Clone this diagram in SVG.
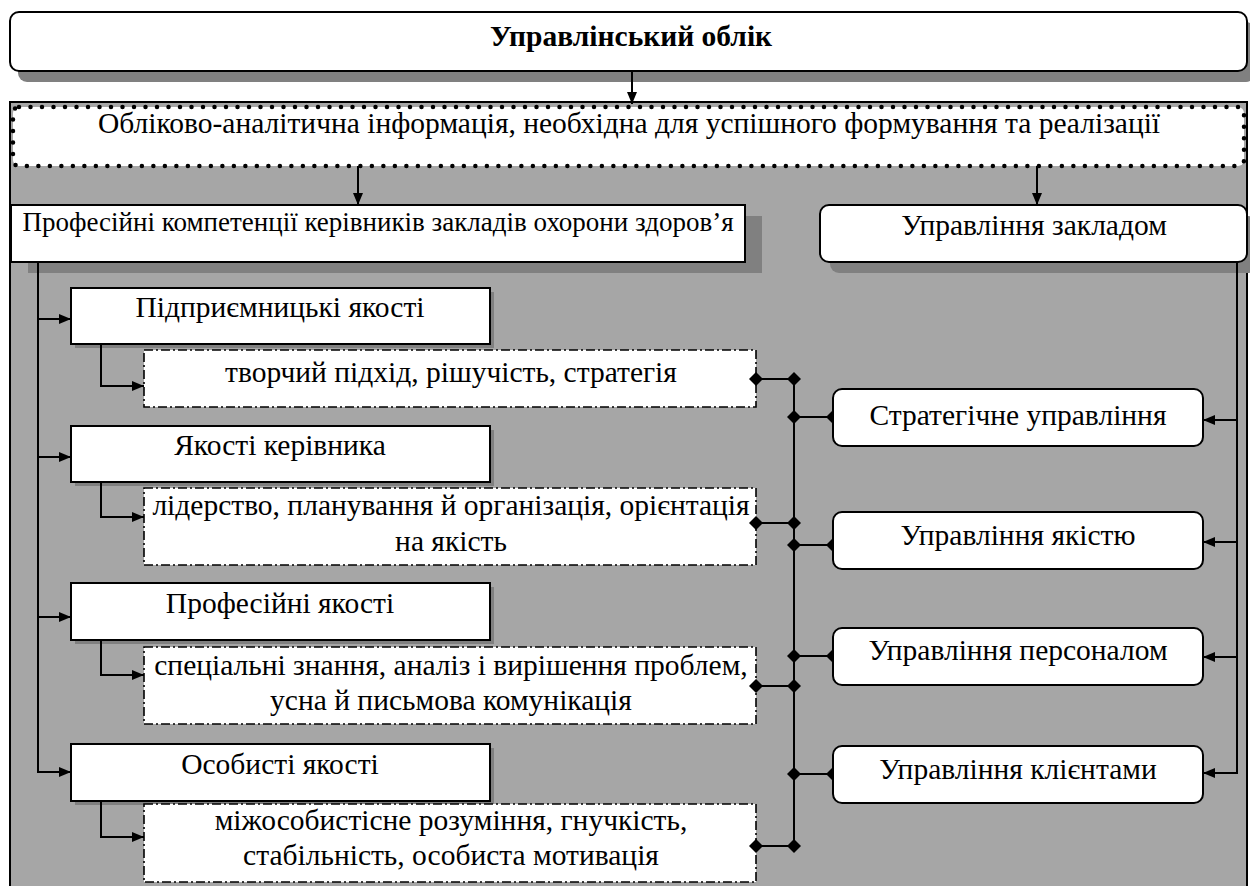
<svg xmlns="http://www.w3.org/2000/svg" width="1250" height="886" viewBox="0 0 1250 886">
  <style>
    .t { font-family: "Liberation Serif", "Times New Roman", serif; font-size: 29.5px; fill: #000; text-anchor: middle; }
    .title { font-weight: bold; }
    .box { fill: #fff; stroke: #000; stroke-width: 2; }
    .shadow { fill: #808080; stroke: none; }
    .dashdot { fill: #fff; stroke: #000; stroke-width: 1.6; stroke-dasharray: 9 3 2 3; }
    .dotted { fill: #fff; stroke: #000; stroke-width: 4.5; stroke-linecap: round; stroke-dasharray: 0 11.5; }
    .line { fill: none; stroke: #000; stroke-width: 2; }
  </style>
  <defs>
    <marker id="arrow" viewBox="0 0 12 10" refX="12" refY="5" markerWidth="12" markerHeight="10" markerUnits="userSpaceOnUse" orient="auto">
      <path d="M0,0 L12,5 L0,10 Z" fill="#000"/>
    </marker>
    <marker id="diamond" viewBox="0 0 14 14" refX="7" refY="7" markerWidth="14" markerHeight="14" markerUnits="userSpaceOnUse" orient="auto">
      <path d="M0,7 L7,0 L14,7 L7,14 Z" fill="#000"/>
    </marker>
    <marker id="halfdiamond" viewBox="0 0 7 14" refX="7" refY="7" markerWidth="7" markerHeight="14" markerUnits="userSpaceOnUse" orient="auto">
      <path d="M0,7 L7,0 L7,14 Z" fill="#000"/>
    </marker>
  </defs>

  <rect width="1250" height="886" fill="#fff"/>

  <!-- top heading -->
  <g id="node-accounting">
    <rect class="shadow" x="18" y="22" width="1237" height="60" rx="9"/>
    <rect class="box" x="10" y="12" width="1237" height="59" rx="9"/>
    <text class="t title" x="631" y="46">Управлінський облік</text>
  </g>

  <!-- grey frame -->
  <g id="frame">
    <rect x="10" y="102" width="1237" height="800" fill="#a6a6a6" stroke="#000" stroke-width="2"/>
  </g>

  <g id="node-info">
    <rect class="dotted" x="13" y="107" width="1231" height="59" rx="6"/>
    <text class="t" x="629" y="133">Обліково-аналітична інформація, необхідна для успішного формування та реалізації</text>
  </g>

  <g id="node-competences">
    <rect class="shadow" x="28" y="216" width="734" height="57"/>
    <rect class="box" x="11" y="205" width="734" height="57"/>
    <text class="t" x="378" y="231" style="font-size:27px">Професійні компетенції керівників закладів охорони здоров’я</text>
  </g>

  <g id="node-institution">
    <rect class="shadow" x="830" y="216" width="427" height="57" rx="9"/>
    <rect class="box" x="820" y="205" width="427" height="57" rx="9"/>
    <text class="t" x="1034" y="235">Управління закладом</text>
  </g>

  <!-- quality categories -->
  <g id="node-entrepreneurial">
    <rect class="shadow" x="75" y="292" width="419" height="56"/>
    <rect class="box" x="71" y="288" width="419" height="56"/>
    <text class="t" x="280" y="317">Підприємницькі якості</text>
  </g>
  <g id="node-entrepreneurial-details">
    <rect class="dashdot" x="144" y="350" width="612" height="57"/>
    <text class="t" x="451" y="382">творчий підхід, рішучість, стратегія</text>
  </g>

  <g id="node-leader">
    <rect class="shadow" x="75" y="430" width="419" height="56"/>
    <rect class="box" x="71" y="426" width="419" height="56"/>
    <text class="t" x="280" y="455">Якості керівника</text>
  </g>
  <g id="node-leader-details">
    <rect class="dashdot" x="144" y="488" width="612" height="77"/>
    <text class="t" x="451" y="515">лідерство, планування й організація, орієнтація</text>
    <text class="t" x="451" y="551">на якість</text>
  </g>

  <g id="node-professional">
    <rect class="shadow" x="75" y="587" width="419" height="57"/>
    <rect class="box" x="71" y="583" width="419" height="57"/>
    <text class="t" x="280" y="613">Професійні якості</text>
  </g>
  <g id="node-professional-details">
    <rect class="dashdot" x="144" y="647" width="612" height="77"/>
    <text class="t" x="451" y="675">спеціальні знання, аналіз і вирішення проблем,</text>
    <text class="t" x="451" y="710">усна й письмова комунікація</text>
  </g>

  <g id="node-personal">
    <rect class="shadow" x="75" y="748" width="419" height="57"/>
    <rect class="box" x="71" y="744" width="419" height="57"/>
    <text class="t" x="280" y="774">Особисті якості</text>
  </g>
  <g id="node-personal-details">
    <rect class="dashdot" x="144" y="804" width="612" height="78"/>
    <text class="t" x="451" y="830">міжособистісне розуміння, гнучкість,</text>
    <text class="t" x="451" y="865">стабільність, особиста мотивація</text>
  </g>

  <!-- connectors -->
  <g id="connectors">
    <line class="line" x1="632" y1="71" x2="632" y2="104" marker-end="url(#arrow)"/>
    <line class="line" x1="358" y1="166" x2="358" y2="205" marker-end="url(#arrow)"/>
    <line class="line" x1="1037" y1="166" x2="1037" y2="205" marker-end="url(#arrow)"/>

    <!-- left trunk to categories -->
    <line class="line" x1="38" y1="262" x2="38" y2="773"/>
    <line class="line" x1="38" y1="319" x2="71" y2="319" marker-end="url(#arrow)"/>
    <line class="line" x1="38" y1="457" x2="71" y2="457" marker-end="url(#arrow)"/>
    <line class="line" x1="38" y1="617" x2="71" y2="617" marker-end="url(#arrow)"/>
    <line class="line" x1="38" y1="772" x2="71" y2="772" marker-end="url(#arrow)"/>

    <!-- categories to details -->
    <polyline class="line" points="101,344 101,386 144,386" marker-end="url(#arrow)"/>
    <polyline class="line" points="101,482 101,517 144,517" marker-end="url(#arrow)"/>
    <polyline class="line" points="101,640 101,675 144,675" marker-end="url(#arrow)"/>
    <polyline class="line" points="101,801 101,837 144,837" marker-end="url(#arrow)"/>

    <!-- details to the management bus -->
    <line class="line" x1="794" y1="379" x2="794" y2="846"/>
    <line class="line" x1="756" y1="379" x2="794" y2="379" marker-start="url(#diamond)" marker-end="url(#diamond)"/>
    <line class="line" x1="756" y1="523" x2="794" y2="523" marker-start="url(#diamond)" marker-end="url(#diamond)"/>
    <line class="line" x1="756" y1="686" x2="794" y2="686" marker-start="url(#diamond)" marker-end="url(#diamond)"/>
    <line class="line" x1="756" y1="846" x2="794" y2="846" marker-start="url(#diamond)" marker-end="url(#diamond)"/>

    <!-- bus to management areas -->
    <line class="line" x1="794" y1="417" x2="833" y2="417" marker-start="url(#diamond)" marker-end="url(#halfdiamond)"/>
    <line class="line" x1="794" y1="545" x2="833" y2="545" marker-start="url(#diamond)" marker-end="url(#halfdiamond)"/>
    <line class="line" x1="794" y1="656" x2="833" y2="656" marker-start="url(#diamond)" marker-end="url(#halfdiamond)"/>
    <line class="line" x1="794" y1="774" x2="833" y2="774" marker-start="url(#diamond)" marker-end="url(#halfdiamond)"/>

    <!-- right trunk from institution management -->
    <line class="line" x1="1237" y1="262" x2="1237" y2="774"/>
    <line class="line" x1="1237" y1="420" x2="1203" y2="420" marker-end="url(#arrow)"/>
    <line class="line" x1="1237" y1="542" x2="1203" y2="542" marker-end="url(#arrow)"/>
    <line class="line" x1="1237" y1="657" x2="1203" y2="657" marker-end="url(#arrow)"/>
    <line class="line" x1="1237" y1="773" x2="1203" y2="773" marker-end="url(#arrow)"/>
  </g>

  <!-- management areas -->
  <g id="node-strategic">
    <rect class="box" x="833" y="389" width="370" height="57" rx="9"/>
    <text class="t" x="1018" y="425">Стратегічне управління</text>
  </g>
  <g id="node-quality">
    <rect class="box" x="833" y="512" width="370" height="57" rx="9"/>
    <text class="t" x="1018" y="545">Управління якістю</text>
  </g>
  <g id="node-staff">
    <rect class="box" x="833" y="628" width="370" height="57" rx="9"/>
    <text class="t" x="1018" y="660">Управління персоналом</text>
  </g>
  <g id="node-clients">
    <rect class="box" x="833" y="746" width="370" height="57" rx="9"/>
    <text class="t" x="1018" y="779">Управління клієнтами</text>
  </g>
</svg>
